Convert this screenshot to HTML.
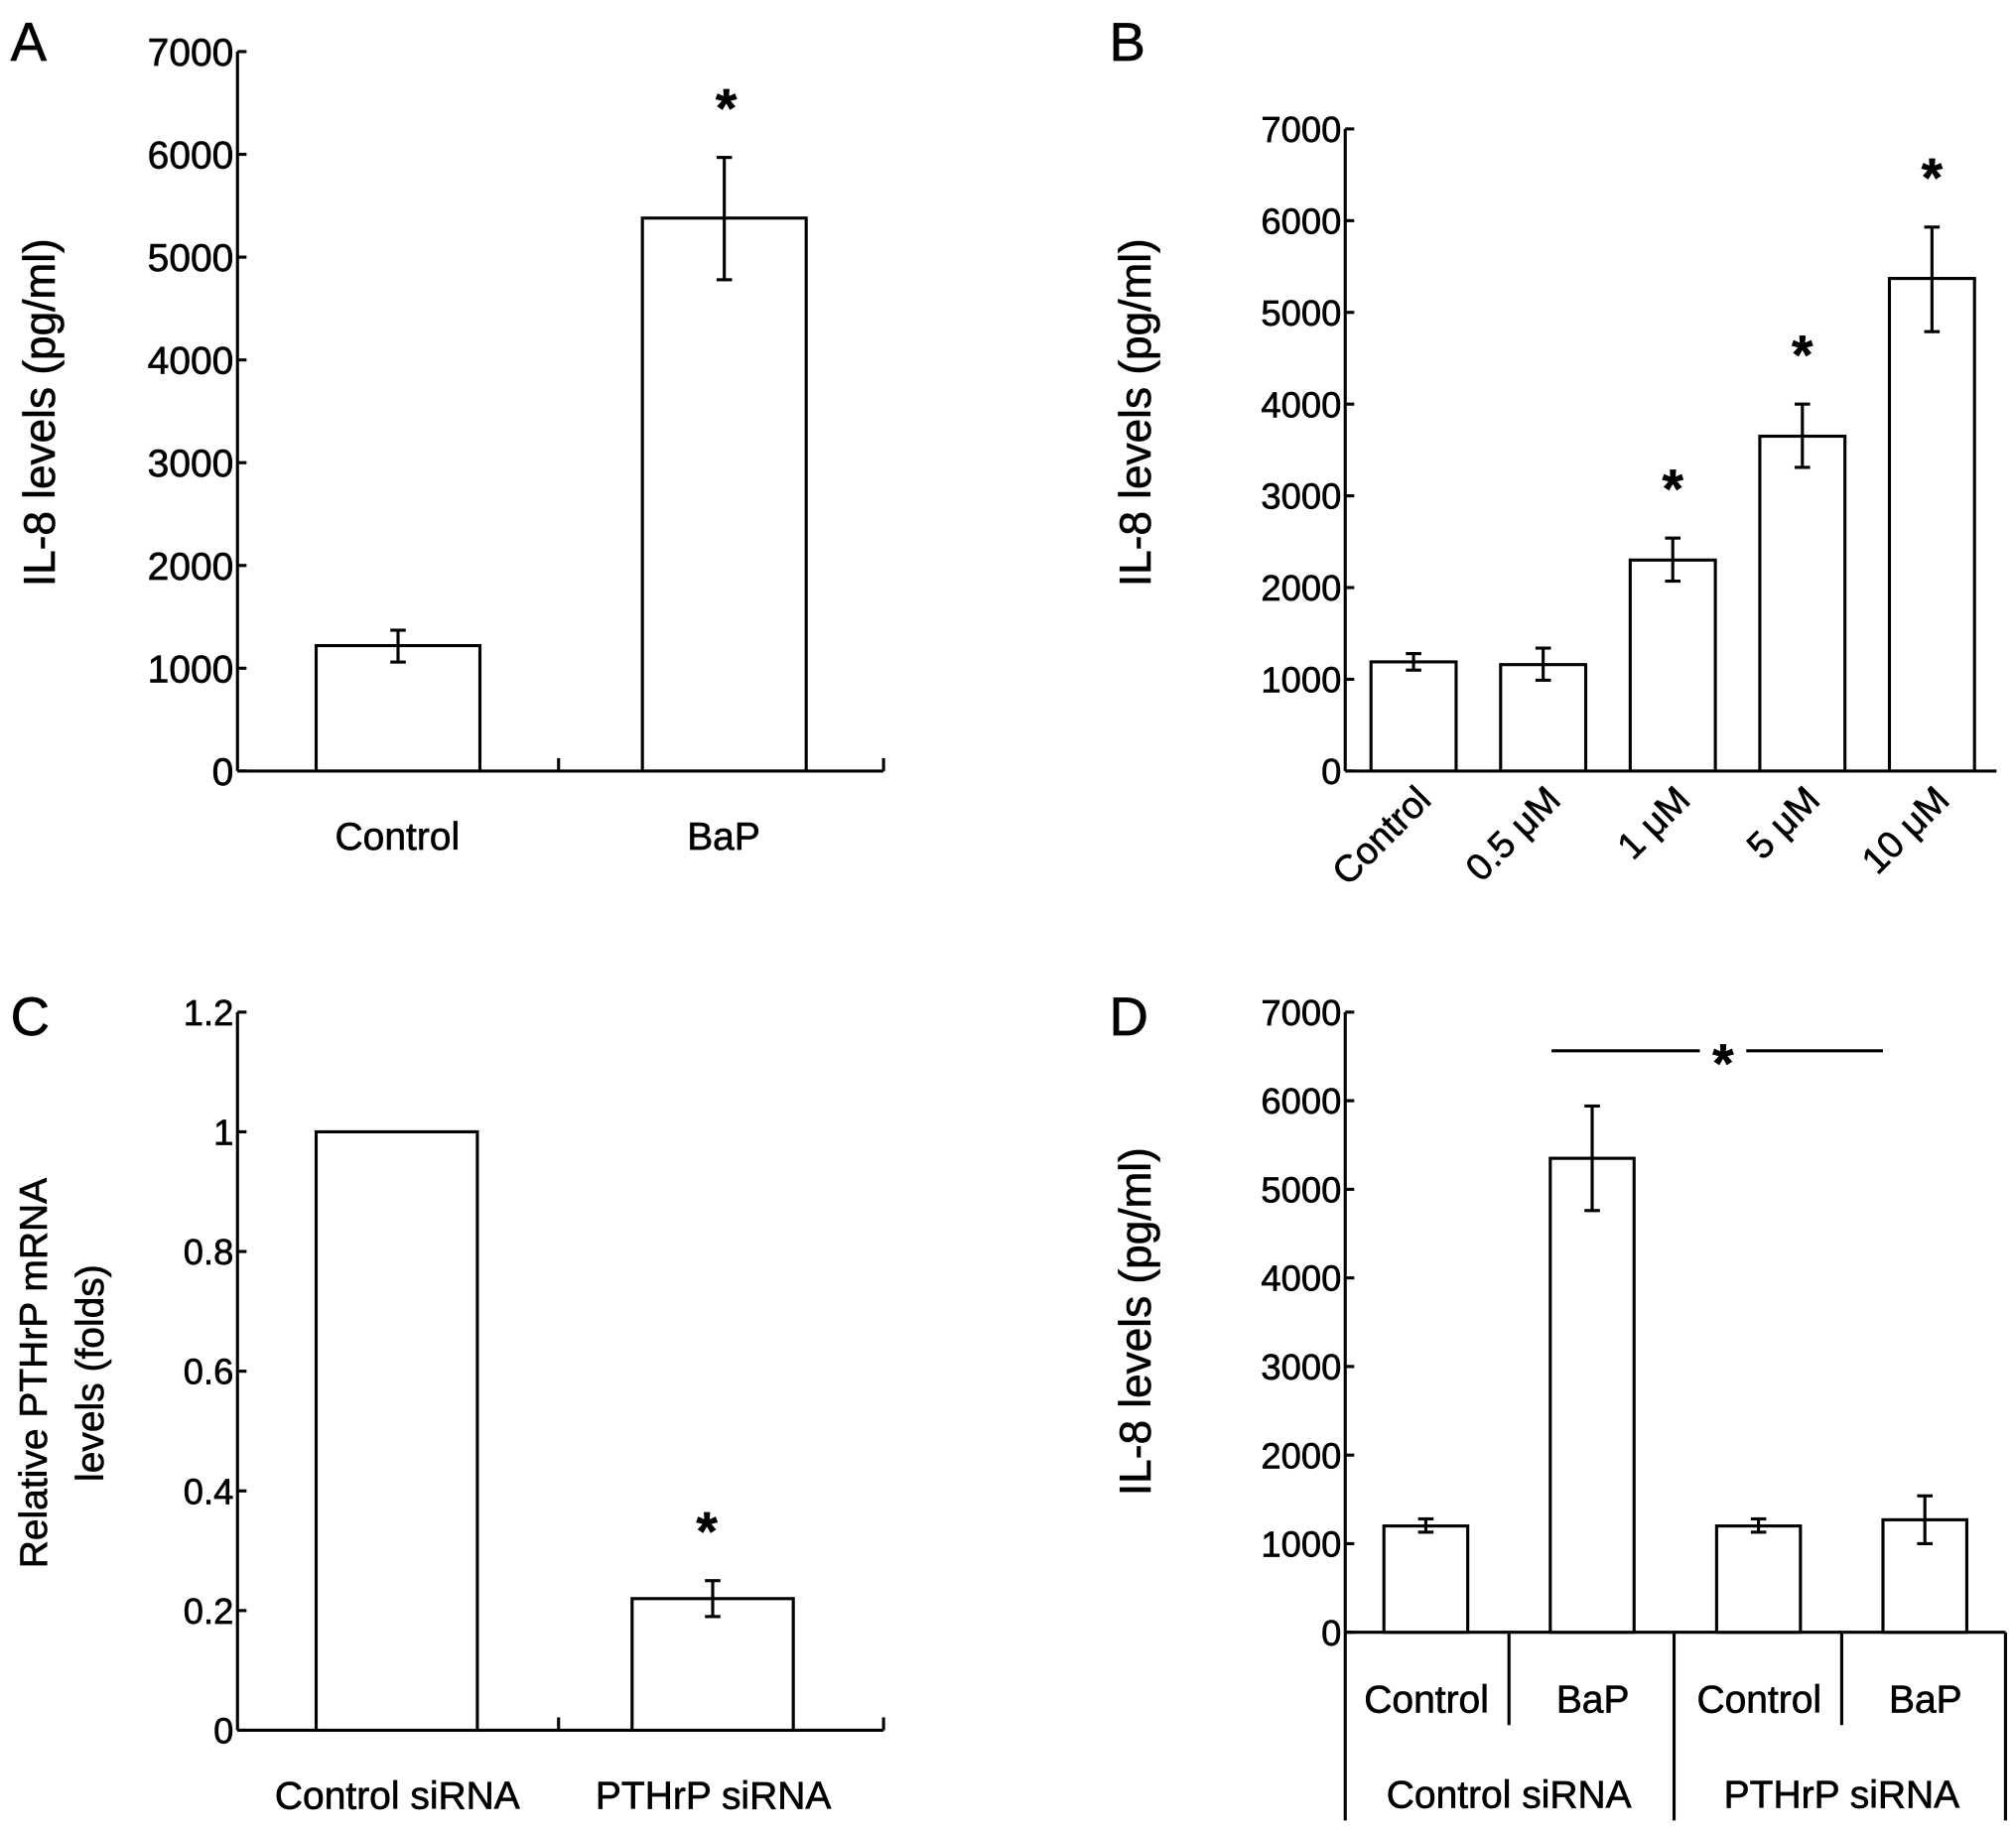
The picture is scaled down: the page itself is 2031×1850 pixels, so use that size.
<!DOCTYPE html>
<html><head><meta charset="utf-8"><style>
html,body{margin:0;padding:0;background:#fff}
svg{display:block}
text{font-family:"Liberation Sans",sans-serif;fill:#000}
</style></head><body>
<svg id="fig" width="2031" height="1850" viewBox="0 0 1563 1424" xmlns="http://www.w3.org/2000/svg"></svg>
<script>
// Panel A data
const aCats=["Control","BaP"];
const aVals=[1220,5380];
const aLo=[1060,4780];
const aHi=[1370,5970];
const aTicks=[0,1000,2000,3000,4000,5000,6000,7000];
// Panel B data
const bCats=["Control","0.5 μM","1 μM","5 μM","10 μM"];
const bVals=[1190,1160,2300,3650,5370];
const bLo=[1100,990,2070,3310,4790];
const bHi=[1280,1340,2540,4000,5930];
const bStar=[false,false,true,true,true];
// Panel C data
const cCats=["Control siRNA","PTHrP siRNA"];
const cVals=[1.0,0.22];
const cLo=[1.0,0.19];
const cHi=[1.0,0.25];
const cTicks=[0,0.2,0.4,0.6,0.8,1,1.2];
const cTickLabels=["0","0.2","0.4","0.6","0.8","1","1.2"];
// Panel D data
const dCats=["Control","BaP","Control","BaP"];
const dGroups=["Control siRNA","PTHrP siRNA"];
const dVals=[1200,5350,1200,1270];
const dLo=[1130,4760,1130,1000];
const dHi=[1280,5940,1280,1540];

const svg=document.getElementById('fig');
const NS="http://www.w3.org/2000/svg";
function el(tag,attrs,parent,txt){const e=document.createElementNS(NS,tag);for(const k in attrs)e.setAttribute(k,attrs[k]);if(txt!==undefined)e.textContent=txt;(parent||svg).appendChild(e);return e;}
function line(x1,y1,x2,y2,p,name){const l=el('line',{x1,y1,x2,y2,stroke:'#000','stroke-width':2.4},p);

return l;}
function txt(x,y,s,size,anchor,p,name,extra){const t=el('text',Object.assign({x,y,'font-size':size,'text-anchor':anchor||'middle',stroke:'#000','stroke-width':0.5},extra||{}),p,s);

return t;}
function group(name){const g=el('g',{});

return g;}
function star(x,y,p){return txt(x,y,'*',42,'middle',p,'significance-asterisk',{'font-weight':'bold'});}
function bar(g,x0,w,v,lo,hi,ys,name){
  const y0=ys(0),yv=ys(v);
  const r=el('rect',{x:x0,y:yv,width:w,height:y0-yv,fill:'#fff',stroke:'#000','stroke-width':2.4},g);
  
  
  if(hi!==lo){const cx=x0+w/2;
    line(cx,ys(hi),cx,ys(lo),g,'error-bar');
    line(cx-6,ys(hi),cx+6,ys(hi),g,'error-cap');
    line(cx-6,ys(lo),cx+6,ys(lo),g,'error-cap');}
}
function yAxis(g,x,ys,ticks,labels,size){
  line(x,ys(ticks[ticks.length-1]),x,ys(0),g,'y-axis');
  ticks.forEach((t,i)=>{line(x,ys(t),x+7,ys(t),g,'y-tick');
    txt(x-3,ys(t)+size*0.36,labels?labels[i]:String(t),size,'end',g,'y-tick-label');});
}

// ---- Panel A
(function(){
  const g=group('panel-a');
  const ys=v=>598-v*(558/7000);
  txt(8,47,'A',42,'start',g,'panel-label-a');
  yAxis(g,184,ys,aTicks,null,30);
  line(184,598,685,598,g,'x-axis');
  line(433,588,433,598,g,'x-tick');line(685,588,685,598,g,'x-tick');
  const xs=[245,498];
  aVals.forEach((v,i)=>{bar(g,xs[i],127,v,aLo[i],aHi[i],ys,'bar-'+aCats[i].toLowerCase());
    txt(xs[i]+63,659,aCats[i],30,'middle',g,'x-tick-label');});
  star(563,ys(aHi[1])-24,g);
  txt(0,0,'IL-8 levels (pg/ml)',34,'middle',g,'y-axis-title',{transform:'translate(42,320) rotate(-90)'});
})();

// ---- Panel B
(function(){
  const g=group('panel-b');
  const ys=v=>598-v*(498/7000);
  txt(860,47,'B',42,'start',g,'panel-label-b');
  yAxis(g,1043,ys,aTicks,null,28);
  line(1043,598,1548,598,g,'x-axis');
  bCats.forEach((c,i)=>{const x0=1063+i*100.5;
    bar(g,x0,66,bVals[i],bLo[i],bHi[i],ys,'bar-'+i);
    if(bStar[i])star(x0+33,ys(bHi[i])-24,g);
    txt(0,0,c,29,'end',g,'x-tick-label',{transform:`translate(${x0+48},${622}) rotate(-45)`});});
  txt(0,0,'IL-8 levels (pg/ml)',34,'middle',g,'y-axis-title',{transform:'translate(892,320) rotate(-90)'});
})();

// ---- Panel C
(function(){
  const g=group('panel-c');
  const ys=v=>1342-v*(557/1.2);
  txt(8,803,'C',42,'start',g,'panel-label-c');
  yAxis(g,184,ys,cTicks,cTickLabels,28);
  line(184,1342,685,1342,g,'x-axis');
  line(433,1332,433,1342,g,'x-tick');line(685,1332,685,1342,g,'x-tick');
  const xs=[245,490];
  cVals.forEach((v,i)=>{bar(g,xs[i],125,v,cLo[i],cHi[i],ys,'bar-'+i);
    txt(xs[i]+63,1403,cCats[i],30,'middle',g,'x-tick-label');});
  star(548,ys(cHi[1])-24,g);
  txt(0,0,'Relative PTHrP mRNA',30,'middle',g,'y-axis-title',{transform:'translate(36,1065) rotate(-90)'});
  txt(0,0,'levels (folds)',30,'middle',g,'y-axis-title-line2',{transform:'translate(80,1065) rotate(-90)'});
})();

// ---- Panel D
(function(){
  const g=group('panel-d');
  const ys=v=>1266-v*(481/7000);
  txt(860,803,'D',42,'start',g,'panel-label-d');
  yAxis(g,1043,ys,aTicks,null,28);
  line(1043,1266,1555,1266,g,'x-axis');
  dVals.forEach((v,i)=>{const x0=1073+i*129;
    bar(g,x0,65,v,dLo[i],dHi[i],ys,'bar-'+i);
    txt(x0+33,1328,dCats[i],30,'middle',g,'x-tick-label');});
  [1170,1428].forEach(x=>line(x,1266,x,1338,g,'category-separator'));
  [1043,1298,1555].forEach(x=>line(x,1266,x,1412,g,'group-separator'));
  dGroups.forEach((s,i)=>txt(1170+i*258,1402,s,30,'middle',g,'group-label'));
  line(1203,815,1318,815,g,'significance-line');line(1354,815,1460,815,g,'significance-line');
  star(1336,839,g);
  txt(0,0,'IL-8 levels (pg/ml)',34,'middle',g,'y-axis-title',{transform:'translate(892,1025) rotate(-90)'});
})();
</script>
</body></html>
